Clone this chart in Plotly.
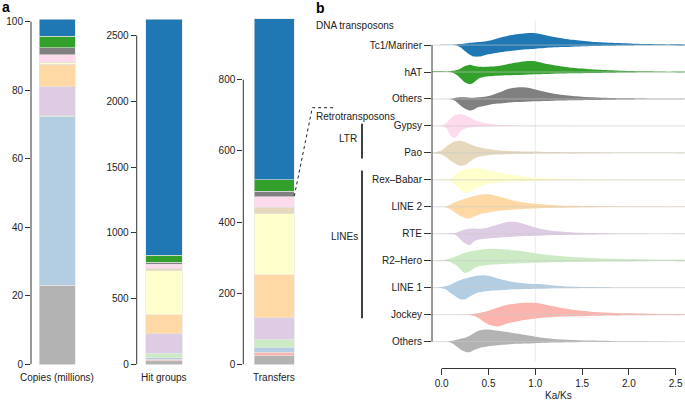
import plotly.graph_objects as go

W, H = 685, 407

# ---------------- data ----------------
CATEGORIES = ["Tc1/Mariner", "hAT", "Others", "Gypsy", "Pao", "Rex–Babar",
              "LINE 2", "RTE", "R2–Hero", "LINE 1", "Jockey", "Others"]
COLORS = ["#1f78b4", "#33a02c", "#808080", "#fddaec", "#e5d8bd", "#ffffcc",
          "#fed9a6", "#decbe4", "#ccebc5", "#b3cde3", "#fbb4ae", "#b3b3b3"]

# stacked bars (same order as CATEGORIES, top of stack first)
COPIES = [4.9, 3.4, 2.1, 2.2, 0.1, 0.4, 6.6, 8.5, 0.2, 49.2, 0.1, 23.0]
HIT_GROUPS = [1795, 54, 15, 28, 20, 334, 145, 147, 35, 12, 13, 27]
TRANSFERS = [452, 32, 16, 29, 18, 172, 121, 60, 23, 14, 10, 24]
BAR_LABELS = ["Copies (millions)", "Hit groups", "Transfers"]

COPIES_TICKS = [0, 20, 40, 60, 80, 100]
HIT_TICKS = [0, 500, 1000, 1500, 2000, 2500]
TRANSFER_TICKS = [0, 200, 400, 600, 800]
KAKS_TICKS = [0.0, 0.5, 1.0, 1.5, 2.0, 2.5]

# Ka/Ks density grid and split-violin densities (upper half / lower half)
KAKS_GRID = [-0.1, -0.05, 0.0, 0.05, 0.1, 0.15, 0.2, 0.25, 0.3, 0.35, 0.4, 0.45, 0.5,
             0.6, 0.7, 0.8, 0.9, 1.0, 1.1, 1.2, 1.4, 1.6, 1.8, 2.0, 2.2, 2.4, 2.6]

DENS_TOP = [
    [0, 0, 0.3, 0.3, 0.2, 0.5, 1.0, 1.5, 2.3, 2.7, 3.0, 3.5, 4.3, 7, 9.3, 11, 12, 12, 10.3, 8.3, 5.3, 3.3, 2.3, 1.7, 1.0, 0.7, 0.3],
    [0.7, 0.8, 0.7, 0.5, 1.0, 1.7, 3.3, 6, 7.3, 6, 5.3, 5.2, 5.3, 6, 8, 9.7, 11, 11, 8.7, 7, 4.3, 2.7, 1.7, 1.0, 0.7, 0.3, 0.2],
    [0, 0, 0, 0, 0.3, 1.3, 1.7, 1.7, 1.3, 1.3, 1.7, 2.2, 3, 6, 10, 11.7, 11.7, 9.7, 7.3, 5.3, 3, 1.7, 1, 0.7, 0.3, 0.2, 0.1],
    [0, 0, 0.3, 3, 8, 11, 12, 10.7, 8.7, 6, 4.3, 3.2, 2.3, 1.3, 0.7, 0.5, 0.3, 0.2, 0.1, 0.1, 0, 0, 0, 0, 0, 0, 0],
    [0, 1.2, 2.7, 6.3, 9.7, 11.7, 12.3, 11, 9, 7, 5.7, 4.8, 4, 2.7, 2, 1.7, 1.3, 1.3, 1, 1, 0.7, 0.7, 0.5, 0.5, 0.3, 0.3, 0.2],
    [0, 0.3, 1.5, 0.7, 1.7, 6, 9.3, 10.7, 11.3, 12, 11.7, 10.8, 9.7, 7.7, 6, 4.3, 3, 2.3, 1.7, 1.3, 1, 0.7, 0.5, 0.3, 0.3, 0.2, 0.1],
    [0, 0, 0, 0.3, 2.7, 5, 6.7, 8.3, 9.7, 11, 12, 12.7, 12.7, 10.7, 8, 5.7, 4, 3, 2.3, 1.7, 1, 0.7, 0.5, 0.3, 0.2, 0.1, 0.1],
    [0, 0.1, 0.2, 0.3, 0.5, 0.7, 2.7, 4.3, 5, 5.3, 5, 5.3, 6.3, 9.3, 12, 12, 9.3, 6.3, 4, 2.7, 1.3, 0.7, 0.3, 0.2, 0.1, 0.1, 0],
    [0, 0.3, 0.7, 1.3, 2.7, 4.3, 6.3, 8, 9.3, 10.3, 11, 11.5, 12, 12, 11.3, 10.3, 9, 7.7, 6.3, 5.3, 3.7, 2.7, 2, 1.7, 1.3, 1, 0.7],
    [0, 0.2, 0.7, 1.7, 3.3, 5.7, 7.7, 9.3, 10.7, 11.7, 12.3, 12.7, 12, 9.3, 7, 5.3, 4.3, 3.7, 3.3, 2.3, 1, 0.7, 0.3, 0.2, 0.1, 0.1, 0],
    [0, 0, 0, 0, 0, 0, 0, 0, 0.3, 1, 1.7, 2.7, 4, 7.3, 10, 11.3, 12, 12, 10.3, 8.3, 5, 3, 2, 1.3, 1, 0.7, 0.3],
    [0, 0, 0, 0, 0.7, 1.7, 3, 4, 6, 9, 11.3, 12.3, 12.3, 11, 9.7, 8.3, 6.7, 5, 3.7, 2.7, 1.7, 1, 0.7, 0.3, 0.2, 0.1, 0],
]
DENS_BOTTOM = [
    [0, 0, 0, 0, 0, 0.3, 2.3, 6.3, 9.7, 11.7, 11.7, 10.5, 9.3, 7.7, 6.3, 5.3, 4.3, 3.7, 3, 2.3, 1.7, 1.0, 0.7, 0.5, 0.3, 0.2, 0.1],
    [0, 0, 0, 0, 0.3, 2.3, 6.3, 10.7, 12.3, 10, 6.3, 5, 4.3, 3.7, 3.3, 3, 2.7, 2.3, 2, 1.7, 1.3, 1, 0.7, 0.5, 0.3, 0.2, 0.1],
    [0, 0, 0, 0, 0.3, 2.3, 6.7, 10, 11.7, 10.3, 8, 7, 6, 4.7, 3.7, 3, 2.7, 2.3, 2, 1.7, 1.3, 1, 0.7, 0.5, 0.3, 0.2, 0.1],
    [0, 0, 0.3, 2, 10.5, 11.8, 5.3, 2.7, 1.7, 1, 0.7, 0.5, 0.3, 0.2, 0.1, 0.1, 0, 0, 0, 0, 0, 0, 0, 0, 0, 0, 0],
    [0, 0.7, 1.7, 4.7, 8.3, 11.3, 13, 12.3, 9, 5.7, 4, 3, 2.3, 1.7, 1.3, 1, 1, 0.7, 0.7, 0.5, 0.5, 0.3, 0.3, 0.2, 0.2, 0.1, 0.1],
    [0, 0, 0.3, 0.3, 1.3, 5.3, 10, 12.7, 12.9, 9.3, 6.7, 5.2, 4, 2.7, 2, 1.7, 1.3, 1, 1, 0.7, 0.5, 0.3, 0.3, 0.2, 0.1, 0.1, 0.1],
    [0, 0, 0, 0.7, 3, 6.3, 9.3, 11.3, 11.9, 9.7, 7.7, 6.5, 5.7, 4.3, 3.3, 2.7, 2, 1.7, 1.3, 1, 0.7, 0.5, 0.3, 0.2, 0.2, 0.1, 0.1],
    [0, 0, 0, 0, 0.3, 1.3, 5.7, 9.7, 11.5, 7.3, 5.7, 5.2, 4.7, 4, 3.3, 2.7, 2.3, 2, 1.7, 1.3, 1, 0.7, 0.5, 0.3, 0.2, 0.1, 0.1],
    [0, 0, 0, 0.3, 1.7, 4.3, 8.7, 12.4, 10.7, 7.3, 5.7, 4.9, 4.3, 3.7, 3, 2.7, 2.3, 2, 1.7, 1.5, 1.2, 1, 0.8, 0.7, 0.5, 0.4, 0.3],
    [0, 0.1, 0.5, 2, 5.7, 9, 11.7, 11.7, 9, 6.3, 4.7, 3.8, 3.3, 2.7, 2, 1.7, 1.3, 1, 1, 0.7, 0.5, 0.3, 0.2, 0.1, 0.1, 0.1, 0],
    [0, 0, 0, 0, 0, 0, 0, 0, 0.3, 1.3, 4, 7.3, 10, 12, 9, 7, 5.3, 4, 3, 2.3, 1.7, 1.3, 1, 0.7, 0.5, 0.3, 0.2],
    [0, 0, 0, 0, 1.3, 4.3, 8, 10.3, 10.8, 8.3, 6.7, 5.6, 4.7, 3.7, 3, 2.3, 2, 1.7, 1.3, 1, 0.7, 0.5, 0.3, 0.2, 0.1, 0.1, 0],
]

REF_KAKS = 1.0

# ---------------- layout helpers (pixel geometry) ----------------
FONT = "Liberation Sans, Arial, sans-serif"
TXT = "#222222"
AX = "#333333"


def fx(p):
    return p / W


def fy(p):
    return 1 - p / H


BAR_BOTTOM_PX, BAR_TOP_PX = 370, 15
# (axis x px, bar left px, bar right px, domain right px, px of top tick)
BAR_GEOM = [(31, 39, 75, 85, 22), (136.7, 145.7, 182.3, 190, 36), (243.3, 254, 294, 300, 81)]
BAR_DATA = [COPIES, HIT_GROUPS, TRANSFERS]
BAR_TICKS = [COPIES_TICKS, HIT_TICKS, TRANSFER_TICKS]

fig = go.Figure()
layout = dict(
    width=W, height=H, margin=dict(l=0, r=0, t=0, b=0),
    paper_bgcolor="white", plot_bgcolor="white", showlegend=False,
    barmode="stack", font=dict(family=FONT, size=10, color=TXT),
)
shapes, annotations = [], []

for k, (data, ticks, geom, lab) in enumerate(zip(BAR_DATA, BAR_TICKS, BAR_GEOM, BAR_LABELS)):
    ax_px, bl, br, dr, top_tick_px = geom
    unit = br - bl
    xr = [-0.5 - (bl - ax_px) / unit, 0.5 + (dr - br) / unit]
    ppu = (BAR_BOTTOM_PX - top_tick_px) / ticks[-1]
    yr = [0, (BAR_BOTTOM_PX - BAR_TOP_PX) / ppu]
    sfx = "" if k == 0 else str(k + 1)
    xa, ya = "x" + sfx, "y" + sfx
    for val, col in zip(data[::-1], COLORS[::-1]):
        fig.add_trace(go.Bar(x=[0], y=[val], width=1, marker=dict(color=col, line=dict(color="#e4e4e4", width=0.6)),
                             xaxis=xa, yaxis=ya, hoverinfo="skip"))
    layout["xaxis" + sfx] = dict(domain=[fx(ax_px), fx(dr)], range=xr, visible=False, anchor=ya)
    layout["yaxis" + sfx] = dict(domain=[fy(BAR_BOTTOM_PX), fy(BAR_TOP_PX)], range=yr, anchor=xa,
                                 tickvals=ticks, ticks="outside", ticklen=5, tickcolor=AX, tickwidth=1,
                                 showline=False, showgrid=False, zeroline=False,
                                 tickfont=dict(size=10, color=TXT))
    shapes.append(dict(type="line", xref=xa + " domain", x0=0, x1=0, yref=ya, y0=ticks[0], y1=ticks[-1],
                       line=dict(color=AX, width=1)))
    annotations.append(dict(text=lab, xref=xa, x=0, yref="paper", y=fy(383), showarrow=False,
                            xanchor="center", yanchor="middle", font=dict(size=10, color=TXT)))

# ---------------- violin panel ----------------
ROW_PX = 27.36
X0_PX, XUNIT_PX = 441.7, 93.6
LAST_ROW_PX = 346.7
V_LEFT, V_RIGHT, V_BOTTOM, V_TOP = 432, 685, 374, 20
n = len(CATEGORIES)
vx_range = [(V_LEFT - X0_PX) / XUNIT_PX, (V_RIGHT - X0_PX) / XUNIT_PX]
vy_range = [-(V_BOTTOM - LAST_ROW_PX) / ROW_PX, (LAST_ROW_PX - V_TOP) / ROW_PX]

for i, (col, top, bot) in enumerate(zip(COLORS, DENS_TOP, DENS_BOTTOM)):
    b = n - 1 - i
    xs = KAKS_GRID + KAKS_GRID[::-1]
    ys = [b + t / ROW_PX for t in top] + [b - v / ROW_PX for v in bot[::-1]]
    fig.add_trace(go.Scatter(x=xs, y=ys, mode="lines", fill="toself", fillcolor=col,
                             line=dict(color=col, width=0, shape="spline", smoothing=0.8),
                             xaxis="x4", yaxis="y4", hoverinfo="skip"))
for i in range(n):
    b = n - 1 - i
    fig.add_trace(go.Scatter(x=[vx_range[0], vx_range[1]], y=[b, b], mode="lines",
                             line=dict(color="rgba(200,200,200,0.6)", width=1),
                             xaxis="x4", yaxis="y4", hoverinfo="skip"))

layout["xaxis4"] = dict(domain=[fx(V_LEFT), fx(V_RIGHT)], range=vx_range, anchor="y4",
                        tickvals=KAKS_TICKS, tickformat=".1f", ticks="outside", ticklen=6,
                        tickcolor=AX, showline=False, showgrid=False, zeroline=False,
                        tickfont=dict(size=10, color=TXT))
layout["yaxis4"] = dict(domain=[fy(V_BOTTOM), fy(V_TOP)], range=vy_range, anchor="x4",
                        tickvals=[n - 1 - i for i in range(n)], ticktext=CATEGORIES,
                        ticks="outside", ticklen=7, tickcolor=AX, showline=False,
                        showgrid=False, zeroline=False, tickfont=dict(size=10, color=TXT))
shapes.append(dict(type="line", xref="x4", x0=REF_KAKS, x1=REF_KAKS, yref="y4 domain", y0=0.02, y1=1,
                   line=dict(color="#ebebeb", width=1), layer="below"))
shapes.append(dict(type="line", xref="x4 domain", x0=0, x1=0, yref="y4", y0=0, y1=n - 1,
                   line=dict(color=AX, width=1)))
shapes.append(dict(type="line", xref="x4", x0=KAKS_TICKS[0], x1=KAKS_TICKS[-1], yref="y4 domain", y0=0, y1=0,
                   line=dict(color=AX, width=1)))
annotations.append(dict(text="Ka/Ks", xref="x4", x=(KAKS_TICKS[0] + KAKS_TICKS[-1]) / 2, yref="paper",
                        y=fy(401), showarrow=False, xanchor="center", yanchor="middle",
                        font=dict(size=10, color=TXT)))

# group brackets
shapes.append(dict(type="line", xref="paper", x0=fx(362), x1=fx(362), yref="y4", y0=6.79, y1=8.08,
                   line=dict(color="black", width=1.5)))
shapes.append(dict(type="line", xref="paper", x0=fx(362), x1=fx(362), yref="y4", y0=0.87, y1=6.35,
                   line=dict(color="black", width=1.5)))
for txt, xp, yv in [("LTR", 348, 7.55), ("LINEs", 344, 3.9)]:
    annotations.append(dict(text=txt, xref="paper", x=fx(xp), yref="y4", y=yv, showarrow=False,
                            xanchor="center", yanchor="middle", font=dict(size=10, color=TXT)))
for txt, yp in [("DNA transposons", 26), ("Retrotransposons", 118)]:
    annotations.append(dict(text=txt, xref="paper", x=fx(314), yref="paper", y=fy(yp), showarrow=False,
                            xanchor="left", yanchor="middle", font=dict(size=10, color=TXT)))

# dotted connector
shapes.append(dict(type="path", xref="paper", yref="paper",
                   path=f"M {fx(294.3)} {fy(199)} L {fx(312.3)} {fy(109.3)} L {fx(335)} {fy(109.3)}",
                   line=dict(color="#222", width=1, dash="dot")))

# panel letters
annotations.append(dict(text="<b>a</b>", xref="paper", x=fx(0), yref="paper", y=fy(7), showarrow=False,
                        xanchor="left", yanchor="middle", font=dict(size=14, color="black")))
annotations.append(dict(text="<b>b</b>", xref="paper", x=fx(314), yref="paper", y=fy(8), showarrow=False,
                        xanchor="left", yanchor="middle", font=dict(size=14, color="black")))

layout["shapes"] = shapes
layout["annotations"] = annotations
fig.update_layout(**layout)
fig.write_html("out.html", config={"displayModeBar": False},
               post_script="document.body.style.margin='0px';document.body.style.padding='0px';")
